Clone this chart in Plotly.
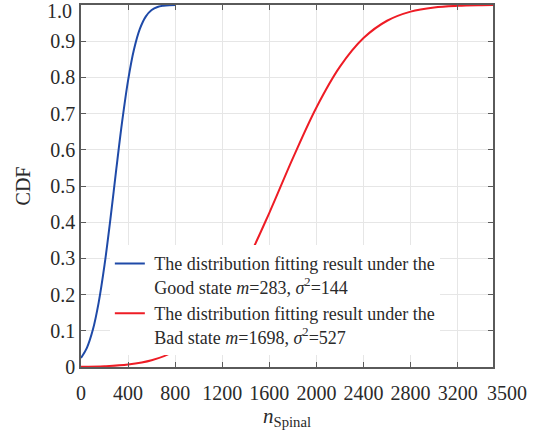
import plotly.graph_objects as go

# Good state curve
good_x = [0, 50, 100, 150, 200, 250, 300, 350, 400, 450, 500, 550, 600, 650, 700, 750, 800]
good_cdf = [0.025, 0.053, 0.102, 0.178, 0.282, 0.409, 0.547, 0.679, 0.792, 0.877, 0.934,
            0.968, 0.986, 0.9946, 0.998, 0.9995, 0.9998]

# Bad state curve
bad_x = [0, 200, 400, 600, 800, 1000, 1200, 1400, 1600, 1800, 2000, 2200, 2400, 2600,
         2800, 3000, 3200, 3400, 3500]
bad_cdf = [0.0006, 0.0022, 0.0069, 0.0186, 0.0442, 0.0927, 0.172, 0.286, 0.426, 0.577,
           0.717, 0.8296, 0.9086, 0.9565, 0.9817, 0.9933, 0.9978, 0.9994, 0.9997]

x_ticks = [0, 400, 800, 1200, 1600, 2000, 2400, 2800, 3200, 3500]
x_ticklabels = ["0", "400", "800", "1200", "1600", "2000", "2400", "2800", "3200", ""]
x_last_label = "3500"
y_ticks = [0, 0.1, 0.2, 0.3, 0.4, 0.5, 0.6, 0.7, 0.8, 0.9, 1.0]
y_ticklabels = ["0", "0.1", "0.2", "0.3", "0.4", "0.5", "0.6", "0.7", "0.8", "0.9", ""]
y_last_label = "1.0"

NB = "\u00a0"
good_name = NB + "The distribution fitting result under the<br>" + NB + \
    "Good state <i>m</i>=283, <i>σ</i><sup>2</sup>=144"
bad_name = NB + "The distribution fitting result under the<br>" + NB + \
    "Bad state <i>m</i>=1698, <i>σ</i><sup>2</sup>=527"

FONT = "Liberation Serif, Times New Roman, serif"
TXT = "#2a2a2a"
AX = "#5a5a5a"

fig = go.Figure()
fig.add_trace(go.Scatter(x=good_x, y=good_cdf, mode="lines", name=good_name,
                         line=dict(color="#1f4aa8", width=2, shape="spline")))
fig.add_trace(go.Scatter(x=bad_x, y=bad_cdf, mode="lines", name=bad_name,
                         line=dict(color="#ee1c25", width=2, shape="spline")))

axis_common = dict(showline=True, linecolor=AX, linewidth=1.5, mirror="ticks",
                   ticks="inside", ticklen=5, tickcolor=AX, tickwidth=1.2,
                   showgrid=True, gridcolor="#e6e6e6", gridwidth=1, zeroline=False,
                   tickangle=0, automargin=False, ticklabeloverflow="allow",
                   tickfont=dict(family=FONT, size=20, color=TXT))

tick_font = dict(family=FONT, size=20, color=TXT)

fig.update_layout(
    width=539, height=436,
    margin=dict(l=81, r=46, t=5, b=69),
    paper_bgcolor="white", plot_bgcolor="white",
    font=dict(family=FONT, color=TXT),
    xaxis=dict(range=[0, 3500], tickvals=x_ticks, ticktext=x_ticklabels,
               ticklabelstandoff=7,
               title=dict(text="<i>n</i><sub>Spinal</sub>", font=dict(family=FONT, size=21, color=TXT),
                          standoff=2),
               **axis_common),
    yaxis=dict(range=[0, 1], tickvals=y_ticks, ticktext=y_ticklabels,
               title=dict(text="CDF", font=dict(family=FONT, size=20, color=TXT), standoff=14),
               **axis_common),
    showlegend=True,
    legend=dict(x=0.07, y=0.3365, xanchor="left", yanchor="top",
                bgcolor="white", borderwidth=0, valign="top",
                font=dict(family=FONT, size=18, color=TXT), tracegroupgap=0),
    annotations=[
        dict(text=x_last_label, x=x_ticks[-1], xref="x", y=0, yref="paper",
             xanchor="center", yanchor="middle", xshift=14, yshift=-26,
             showarrow=False, font=tick_font),
        dict(text=y_last_label, x=0, xref="paper", y=y_ticks[-1], yref="y",
             xanchor="right", yanchor="middle", xshift=-7, yshift=-6,
             showarrow=False, font=tick_font),
    ],
)

fig.write_html("out.html")
